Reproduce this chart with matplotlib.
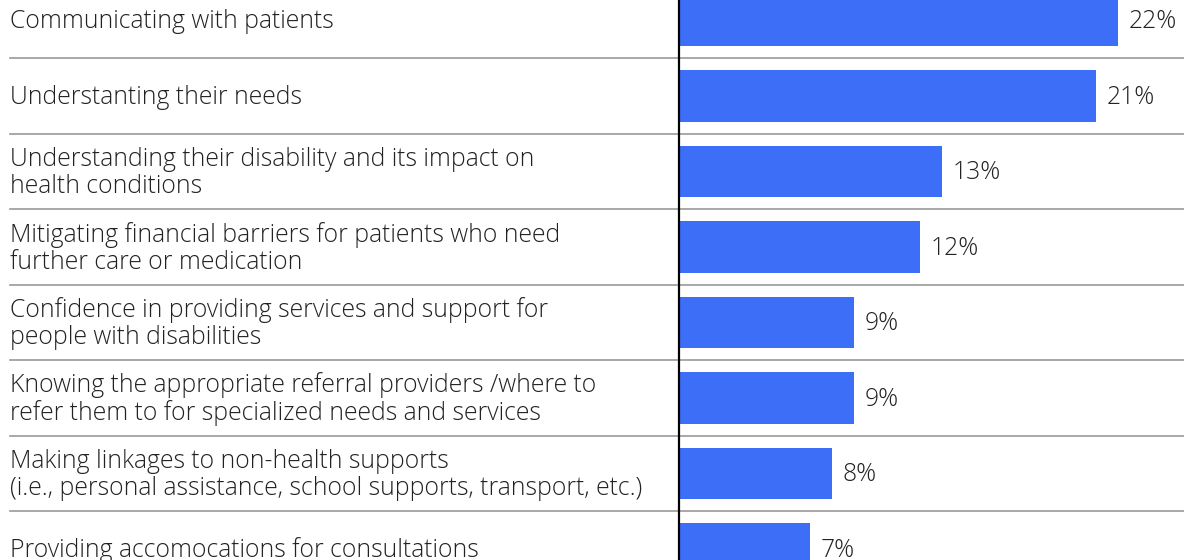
import matplotlib
matplotlib.use("Agg")
import matplotlib.pyplot as plt

categories = [
    "Communicating with patients",
    "Understanting their needs",
    "Understanding their disability and its impact on\nhealth conditions",
    "Mitigating financial barriers for patients who need\nfurther care or medication",
    "Confidence in providing services and support for\npeople with disabilities",
    "Knowing the appropriate referral providers /where to\nrefer them to for specialized needs and services",
    "Making linkages to non-health supports\n(i.e., personal assistance, school supports, transport, etc.)",
    "Providing accomocations for consultations",
]
values = [21.95, 20.85, 13.15, 12.05, 8.75, 8.75, 7.65, 6.55]
value_labels = ["22%", "21%", "13%", "12%", "9%", "9%", "8%", "7%"]

W, H = 1184, 560
fig = plt.figure(figsize=(W / 100, H / 100), dpi=100)
ax = fig.add_axes([0, 0, 1, 1])

px_per_unit = 20.0
x0_px = 679
xmin = -x0_px / px_per_unit
xmax = (W - x0_px) / px_per_unit
row_px = 75.5
first_center = 20.25
ymin = -first_center / row_px
ymax = (H - first_center) / row_px
ax.set_xlim(xmin, xmax)
ax.set_ylim(ymax, ymin)
ax.axis("off")

font = "Open Sans"
fs = 17.8
ys = list(range(len(categories)))
ax.barh(ys, values, height=51.5 / row_px, color="#3D6EF8", zorder=2)

for y, v, lab, cat in zip(ys, values, value_labels, categories):
    ax.annotate(lab, (v, y), xytext=(7.5, -1.2), textcoords="offset points",
                ha="left", va="center", fontsize=fs, color="#222222",
                family=font, fontweight="light")
    ax.annotate(cat, (xmin, y), xytext=(7.5, -1.2), textcoords="offset points",
                ha="left", va="center", fontsize=fs, color="#222222",
                family=font, fontweight="light", linespacing=1.1)

for i in range(len(categories)):
    ax.plot([xmin + 10 / px_per_unit, xmax], [i + 0.5, i + 0.5],
            color="#999999", lw=1.2, zorder=1)

ax.axvline(0, color="black", lw=1.6, zorder=3)

fig.savefig("out.png", dpi=100)
